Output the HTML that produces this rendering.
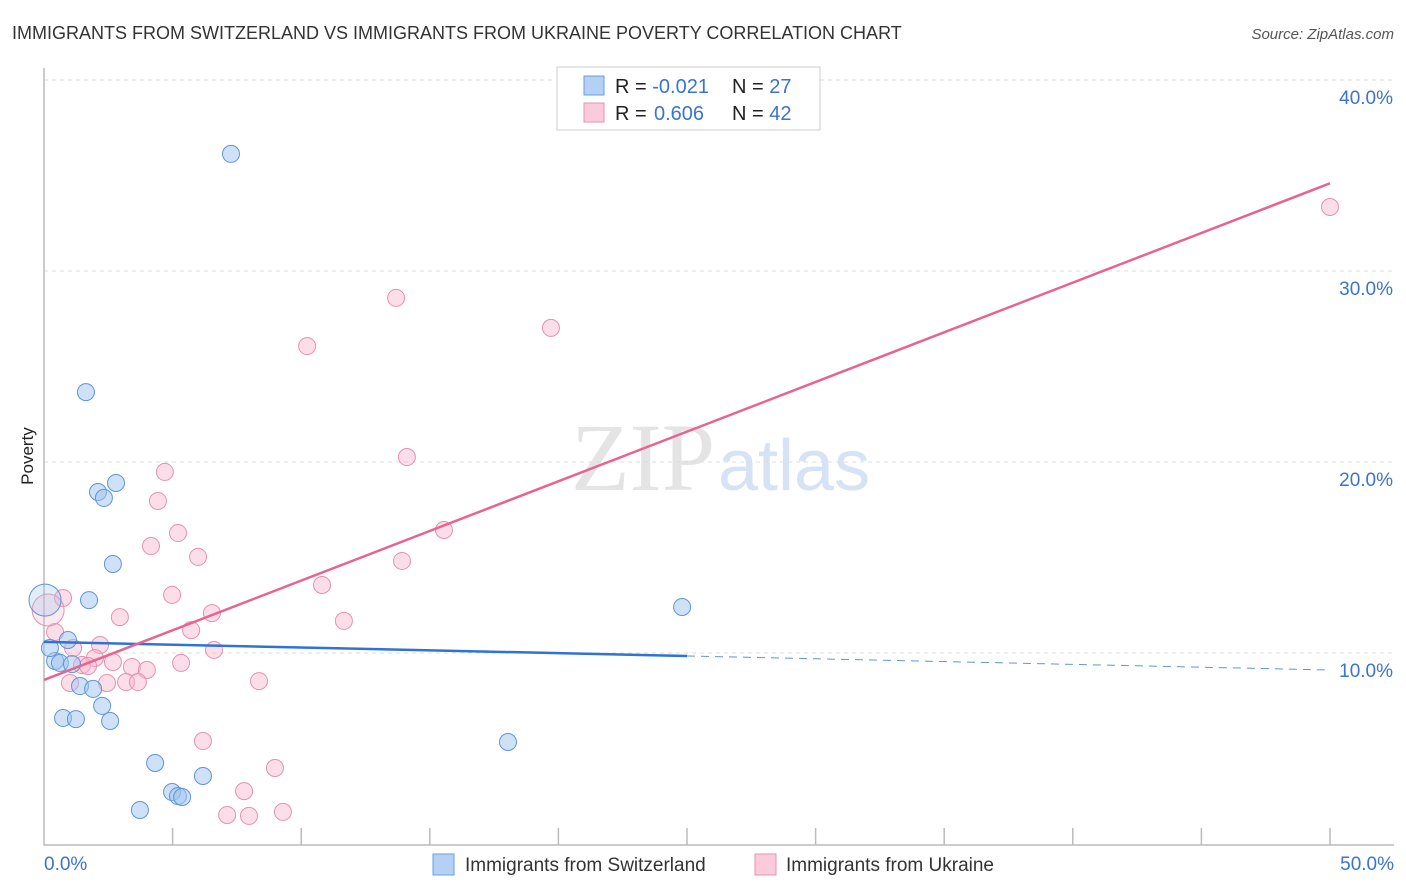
<!DOCTYPE html>
<html><head><meta charset="utf-8"><style>
body{margin:0;background:#fff;font-family:"Liberation Sans",sans-serif}
</style></head><body>
<svg id="c" width="1406" height="892" style="display:block">
<text x="12" y="39" font-size="18" fill="#333">IMMIGRANTS FROM SWITZERLAND VS IMMIGRANTS FROM UKRAINE POVERTY CORRELATION CHART</text>
<text x="1394" y="39" font-size="15" fill="#555" font-style="italic" text-anchor="end">Source: ZipAtlas.com</text>
<text x="33" y="456" font-size="17" fill="#222" text-anchor="middle" transform="rotate(-90 33 456)">Poverty</text>
<text x="715" y="490" font-size="96" fill="#e4e4e4" font-family="Liberation Serif" text-anchor="end">ZIP</text>
<text x="718" y="490" font-size="72" fill="#d6e3f5">atlas</text>
<g id="grid"></g><g id="pts"></g><g id="lines"></g>
<g>
<rect x="557" y="67" width="263" height="63" fill="#fff" stroke="#ccc"/>
<rect x="584" y="76" width="20" height="19" fill="#b5d0f5" stroke="#6a9ee0"/>
<rect x="584" y="103" width="20" height="19" fill="#fbcbdb" stroke="#e890ae"/>
<text x="615" y="93" font-size="20" fill="#222">R = <tspan fill="#3b73d0">-0.021</tspan><tspan x="732">N = </tspan><tspan fill="#3b73d0">27</tspan></text>
<text x="615" y="120" font-size="20" fill="#222">R = <tspan fill="#3b73d0" x="654">0.606</tspan><tspan x="732">N = </tspan><tspan fill="#3b73d0">42</tspan></text>
</g>
<g>
<rect x="433" y="854" width="21" height="21" fill="#b5d0f5" stroke="#6a9ee0"/>
<text x="465" y="871" font-size="19" fill="#333">Immigrants from Switzerland</text>
<rect x="755" y="854" width="21" height="21" fill="#fbcbdb" stroke="#e890ae"/>
<text x="786" y="871" font-size="19" fill="#333">Immigrants from Ukraine</text>
</g>
</svg>
<script>
const blueX=[7.27,1.63,2.10,2.80,2.33,2.68,1.75,0.93,0.43,0.62,1.09,1.40,1.91,2.26,0.74,1.24,2.57,4.32,4.98,5.21,5.37,6.18,3.73,24.81,18.04,0.04,0.23];
const blueY=[36.13,23.66,18.43,18.90,18.12,14.66,12.77,10.68,9.58,9.48,9.42,8.27,8.12,7.23,6.60,6.54,6.44,4.24,2.72,2.51,2.46,3.56,1.78,12.41,5.34,12.77,10.26];
const pinkX=[50.0,13.69,19.71,10.23,14.11,4.70,4.43,15.55,5.21,4.16,5.99,13.92,10.81,4.98,0.74,2.95,6.53,11.66,5.72,0.43,2.18,6.61,1.13,1.98,1.48,1.71,2.68,3.42,4.00,5.33,1.01,2.45,3.19,3.65,8.36,6.18,8.98,7.78,7.12,7.97,9.29,0.16];
const pinkY=[33.35,28.59,27.02,26.07,20.26,19.48,17.96,16.44,16.28,15.60,15.03,14.82,13.56,13.04,12.88,11.88,12.09,11.68,11.20,11.10,10.42,10.16,10.26,9.74,9.37,9.32,9.53,9.27,9.11,9.48,8.43,8.43,8.48,8.48,8.53,5.39,3.98,2.77,1.52,1.47,1.68,12.25];
const yTicks=[10,20,30,40];
const yTickLabels=["10.0%","20.0%","30.0%","40.0%"];
const xTickLabels=["0.0%","50.0%"];
const blueTrend=[10.58,-0.0294];
const pinkTrend=[8.59,0.520];
const NS="http://www.w3.org/2000/svg";
const sx=v=>44+v*25.72, sy=v=>844-v*19.1;
function mk(t,a,p){const e=document.createElementNS(NS,t);for(const k in a)e.setAttribute(k,a[k]);p.appendChild(e);return e;}
const g=document.getElementById('grid');
yTicks.forEach((t,i)=>{
 const l=mk('line',{x1:44,x2:1394,y1:sy(t),y2:sy(t),stroke:'#ddd','stroke-dasharray':'4,4'},g);
 
 
 const tx=mk('text',{x:1393,y:sy(t)+24,'font-size':19,fill:'#3b73d0','text-anchor':'end'},g);
 tx.textContent=yTickLabels[i];
 
 
});
const ax=mk('path',{d:'M44 68V845H1394',fill:'none',stroke:'#bbb','stroke-width':1.5},g);


for(let i=1;i<=10;i++){const t=mk('line',{x1:sx(i*5),x2:sx(i*5),y1:828,y2:845,stroke:'#bbb','stroke-width':1.5},g);
 
 }
[[0,'start',44],[50,'end',1394]].forEach((d,i)=>{const t=mk('text',{x:d[2],y:870,'font-size':19,fill:'#3b73d0','text-anchor':d[1]},g);t.textContent=xTickLabels[i];
 
 });
const p=document.getElementById('pts');
function pts(X,Y,fill,stroke,name){X.forEach((x,i)=>{const big=(i==X.length-1&&name=='pink')||(i==X.length-2&&name=='blue');
 const c=mk('circle',{cx:sx(x),cy:sy(Y[i]),r:big?16:8.5,fill:big?fill.replace(/0\.\d+\)/,'0.3)'):fill,stroke:stroke,'stroke-width':1},p);
 
 });}
pts(pinkX,pinkY,'rgba(248,182,204,0.45)','#e890ae','pink');
pts(blueX,blueY,'rgba(160,196,240,0.5)','#5f94dc','blue');
const L=document.getElementById('lines');
const bt=x=>blueTrend[0]+blueTrend[1]*x, pt=x=>pinkTrend[0]+pinkTrend[1]*x;
let e=mk('line',{x1:sx(0),y1:sy(bt(0)),x2:sx(25),y2:sy(bt(25)),stroke:'#2f73d6','stroke-width':2.5},L);


e=mk('line',{x1:sx(25),y1:sy(bt(25)),x2:sx(50),y2:sy(bt(50)),stroke:'#5f94dc','stroke-width':1,'stroke-dasharray':'8,6'},L);


e=mk('line',{x1:sx(0),y1:sy(pt(0)),x2:sx(50),y2:sy(pt(50)),stroke:'#e8648f','stroke-width':2.5},L);


</script>
</body></html>
